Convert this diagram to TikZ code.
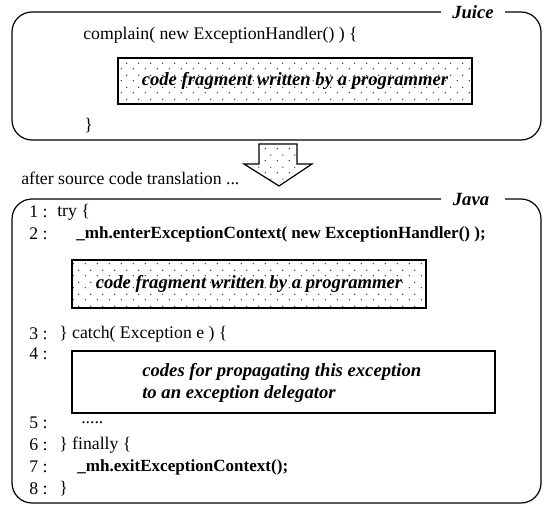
\documentclass[tikz,border=0pt]{standalone}
\usepackage{fontspec}
\setmainfont{Liberation Serif}
\usetikzlibrary{patterns.meta}

\tikzdeclarepattern{
  name=sparsedots,
  type=uncolored,
  bounding box={(0pt,0pt) and (9pt,8.6pt)},
  tile size={(9pt,8.6pt)},
  code={
    \fill (1pt,1pt) circle (0.5pt);
    \fill (5.5pt,5.3pt) circle (0.5pt);
  }
}

\tikzset{
  codetext/.style={anchor=west,inner sep=0.75pt,font=\fontsize{13.3}{15}\selectfont},
  boldcode/.style={codetext,font=\fontsize{12.8}{15}\selectfont\bfseries},
  lineno/.style={codetext},
  boxtitle/.style={inner sep=0.75pt,font=\fontsize{14}{16}\selectfont\bfseries\itshape},
  fragbox/.style={draw,line width=1.2pt,pattern=sparsedots,pattern color=black},
  notebox/.style={draw,line width=0.9pt},
  frame/.style={line width=0.9pt,rounded corners=15pt},
}

\begin{document}
\begin{tikzpicture}[x=0.75pt,y=0.75pt,yscale=-1,xscale=1]
\useasboundingbox (0,0) rectangle (544,507);

%Juice part
\draw [frame] (441,12) -- (12,12) -- (12,140) -- (541,140) -- (541,12) -- (505,12);
\node (juicetitle) [boxtitle] at (473,12) {Juice};
\node (complain) [codetext] at (82,35) {complain( new ExceptionHandler() ) \{};
\draw [fragbox] (118,58) rectangle (472,104);
\node (fragone) [boxtitle] at (295,81) {code fragment written by a programmer};
\node (closeone) [codetext] at (83,126) {\}};

%Translation arrow
\draw [line width=0.9pt,pattern=sparsedots,pattern color=black] (259,144) -- (297,144) -- (297,164) -- (312,164) -- (279,186) -- (244,164) -- (259,164) -- cycle;
\node (after) [codetext] at (20,178) {after source code translation ...};

%Java part
\draw [frame] (441,199) -- (12,199) -- (12,503) -- (541,503) -- (541,199) -- (505,199);
\node (javatitle) [boxtitle] at (471,199) {Java};

\node (lnone) [lineno] at (28,212) {1 :};
\node (ltry) [codetext] at (56,212) {try \{};
\node (lntwo) [lineno] at (28,234) {2 :};
\node (lenter) [boldcode] at (75,234) {\_mh.enterExceptionContext( new ExceptionHandler() );};
\draw [fragbox] (72,260) rectangle (426,308);
\node (fragtwo) [boxtitle] at (249,284) {code fragment written by a programmer};

\node (lnthree) [lineno] at (28,334) {3 :};
\node (lcatch) [codetext] at (58,334) {\} catch( Exception e ) \{};
\node (lnfour) [lineno] at (28,354) {4 :};
\draw [notebox] (72,351) rectangle (495,413);
\node (propagate) [boxtitle,anchor=west,align=left,font=\fontsize{14}{16.5}\selectfont\bfseries\itshape] at (141,383) {codes for propagating this exception\\to an exception delegator};

\node (lnfive) [lineno] at (28,423) {5 :};
\node (ldots) [codetext] at (80,423) {.....};
\node (lnsix) [lineno] at (28,445) {6 :};
\node (lfinally) [codetext] at (58,445) {\} finally \{};
\node (lnseven) [lineno] at (28,467) {7 :};
\node (lexit) [boldcode] at (76,467) {\_mh.exitExceptionContext();};
\node (lneight) [lineno] at (28,489) {8 :};
\node (lclose) [codetext] at (58,489) {\}};

\end{tikzpicture}
\end{document}
